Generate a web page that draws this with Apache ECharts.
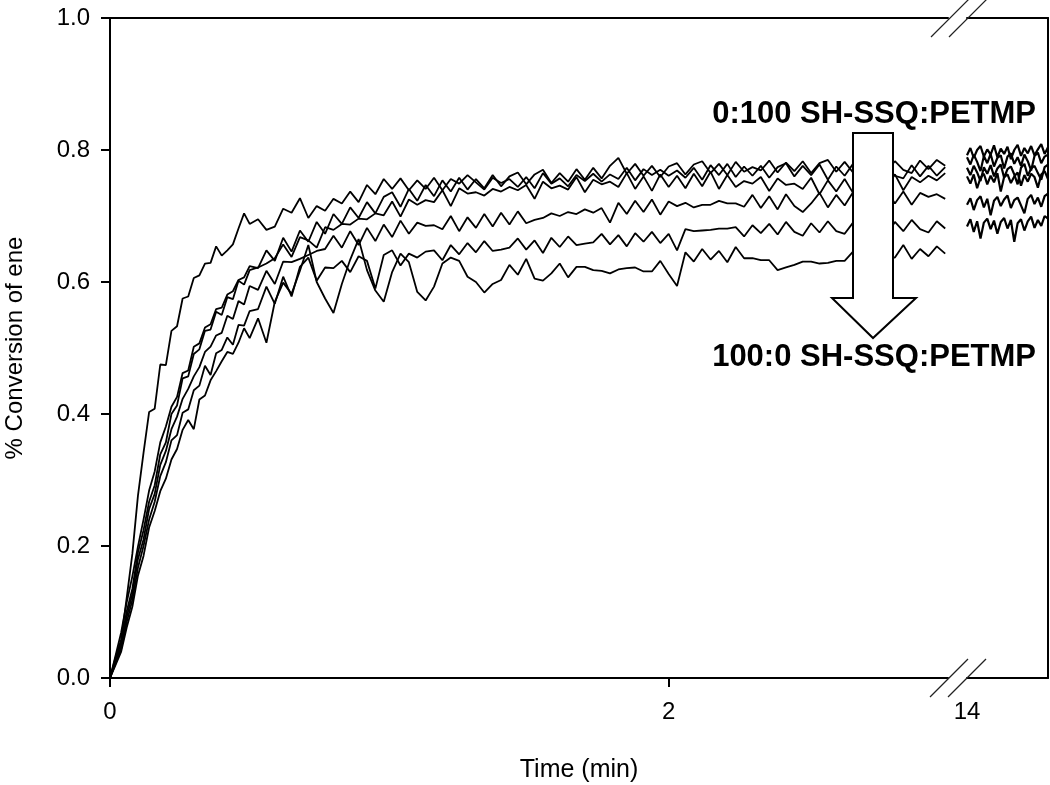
<!DOCTYPE html>
<html>
<head>
<meta charset="utf-8">
<script src="https://cdn.jsdelivr.net/npm/echarts@6/dist/echarts.min.js"></script>
<style>
html,body{margin:0;padding:0;background:#fff;}
#chart{width:1050px;height:785px;}
</style>
</head>
<body>
<div id="chart"></div>
<script>
// ---- data: time (min), first segment 0-3 min ----
const time1 = [0,0.02,0.04,0.06,0.08,0.10,0.12,0.14,0.16,0.18,
 0.20,0.22,0.24,0.26,0.28,0.30,0.32,0.34,0.36,0.38,
 0.40,0.42,0.44,0.46,0.48,0.50,
 0.53,0.56,0.59,0.62,0.65,0.68,0.71,0.74,0.77,0.80,
 0.83,0.86,0.89,0.92,0.95,0.98,1.01,1.04,1.07,1.10,
 1.13,1.16,1.19,1.22,1.25,1.28,1.31,1.34,1.37,1.40,
 1.43,1.46,1.49,1.52,1.55,1.58,1.61,1.64,1.67,1.70,
 1.73,1.76,1.79,1.82,1.85,1.88,1.91,1.94,1.97,2.00,
 2.03,2.06,2.09,2.12,2.15,2.18,2.21,2.24,2.27,2.30,
 2.33,2.36,2.39,2.42,2.45,2.48,2.51,2.54,2.57,2.60,
 2.63,2.66,2.69,2.72,2.75,2.78,2.81,2.84,2.87,2.90,
 2.93,2.96,2.99];
// second segment after the axis break (around 14 min)
const time2 = [14.0,14.0125,14.025,14.0375,14.05,14.0625,14.075,14.0875,14.1,14.1125,
 14.125,14.1375,14.15,14.1625,14.175,14.1875,14.2,14.2125,14.225,14.2375,
 14.25,14.2625,14.275,14.2875,14.3];

const seriesNames = ['0:100','20:80','40:60','60:40','80:20','100:0'];

const conv0_100 = [0,0.034,0.069,0.115,0.154,0.199,0.240,0.284,0.313,0.357,
 0.381,0.411,0.426,0.462,0.466,0.502,0.507,0.531,0.536,0.559,
 0.561,0.581,0.586,0.603,0.607,0.624,
 0.621,0.648,0.632,0.667,0.646,0.678,0.661,0.691,0.673,0.703,
 0.688,0.713,0.697,0.721,0.704,0.729,0.736,0.714,0.741,0.723,
 0.747,0.730,0.754,0.737,0.758,0.740,0.756,0.742,0.762,0.745,
 0.760,0.766,0.748,0.763,0.770,0.750,0.765,0.752,0.771,0.755,
 0.773,0.757,0.776,0.788,0.764,0.779,0.761,0.776,0.759,0.775,
 0.780,0.763,0.778,0.783,0.765,0.779,0.762,0.782,0.767,0.774,
 0.769,0.784,0.766,0.781,0.768,0.783,0.765,0.780,0.785,0.767,
 0.782,0.766,0.784,0.769,0.786,0.768,0.783,0.770,0.765,0.784,
 0.771,0.785,0.776];
const conv20_80 = [0,0.031,0.058,0.122,0.188,0.276,0.341,0.403,0.408,0.475,
 0.474,0.526,0.533,0.575,0.578,0.606,0.610,0.628,0.629,0.654,
 0.640,0.648,0.657,0.681,0.704,0.688,
 0.695,0.679,0.684,0.711,0.705,0.727,0.697,0.715,0.708,0.726,
 0.719,0.737,0.721,0.747,0.733,0.756,0.741,0.757,0.739,0.754,
 0.741,0.758,0.739,0.756,0.749,0.762,0.751,0.740,0.758,0.750,
 0.756,0.744,0.759,0.742,0.765,0.749,0.757,0.745,0.762,0.753,
 0.764,0.752,0.763,0.756,0.773,0.754,0.771,0.762,0.770,0.761,
 0.769,0.758,0.773,0.755,0.777,0.762,0.779,0.759,0.775,0.761,
 0.776,0.758,0.774,0.780,0.760,0.776,0.762,0.778,0.755,0.775,
 0.761,0.779,0.757,0.775,0.752,0.776,0.761,0.757,0.777,0.760,
 0.776,0.761,0.774];
const conv40_60 = [0,0.027,0.055,0.101,0.135,0.190,0.224,0.267,0.292,0.339,
 0.357,0.400,0.413,0.454,0.457,0.491,0.498,0.526,0.528,0.555,
 0.550,0.577,0.574,0.602,0.596,0.618,
 0.622,0.628,0.636,0.657,0.638,0.668,0.663,0.652,0.683,0.679,
 0.688,0.687,0.696,0.695,0.704,0.701,0.722,0.699,0.725,0.717,
 0.724,0.721,0.739,0.715,0.742,0.734,0.736,0.731,0.741,0.737,
 0.744,0.739,0.747,0.726,0.752,0.742,0.746,0.740,0.759,0.736,
 0.755,0.748,0.752,0.744,0.765,0.741,0.760,0.738,0.763,0.744,
 0.761,0.742,0.764,0.745,0.767,0.741,0.762,0.744,0.753,0.749,
 0.759,0.738,0.757,0.747,0.749,0.741,0.758,0.733,0.754,0.737,
 0.756,0.735,0.760,0.740,0.747,0.744,0.763,0.739,0.759,0.751,
 0.761,0.754,0.765];
const conv60_40 = [0,0.024,0.048,0.093,0.127,0.180,0.210,0.256,0.279,0.323,
 0.344,0.377,0.396,0.423,0.438,0.457,0.471,0.494,0.502,0.519,
 0.523,0.549,0.544,0.571,0.566,0.594,
 0.588,0.617,0.597,0.631,0.630,0.635,0.641,0.647,0.650,0.670,
 0.652,0.677,0.656,0.682,0.662,0.687,0.668,0.693,0.673,0.690,
 0.685,0.686,0.680,0.700,0.677,0.698,0.682,0.703,0.684,0.705,
 0.687,0.707,0.689,0.694,0.697,0.704,0.700,0.706,0.703,0.710,
 0.705,0.712,0.690,0.720,0.703,0.723,0.706,0.725,0.702,0.722,
 0.715,0.720,0.713,0.717,0.717,0.723,0.719,0.719,0.714,0.732,
 0.712,0.730,0.710,0.733,0.715,0.706,0.719,0.735,0.713,0.732,
 0.716,0.736,0.718,0.723,0.722,0.739,0.719,0.737,0.717,0.735,
 0.729,0.733,0.726];
const conv80_20 = [0,0.022,0.044,0.085,0.118,0.167,0.200,0.240,0.267,0.306,
 0.327,0.360,0.368,0.402,0.407,0.436,0.443,0.473,0.459,0.492,
 0.497,0.516,0.505,0.535,0.534,0.556,
 0.559,0.593,0.567,0.608,0.578,0.623,0.637,0.602,0.622,0.621,
 0.632,0.615,0.639,0.632,0.590,0.641,0.648,0.625,0.643,0.637,
 0.646,0.648,0.633,0.656,0.642,0.659,0.645,0.662,0.647,0.649,
 0.652,0.666,0.649,0.663,0.644,0.667,0.653,0.669,0.656,0.658,
 0.660,0.673,0.657,0.671,0.654,0.674,0.661,0.676,0.659,0.673,
 0.648,0.680,0.677,0.678,0.679,0.681,0.681,0.683,0.669,0.686,
 0.674,0.688,0.672,0.691,0.676,0.670,0.689,0.675,0.692,0.677,
 0.673,0.690,0.676,0.693,0.679,0.671,0.691,0.677,0.694,0.680,
 0.675,0.692,0.681];
const conv100_0 = [0,0.020,0.040,0.077,0.108,0.155,0.185,0.228,0.253,0.283,
 0.302,0.331,0.347,0.376,0.391,0.377,0.422,0.428,0.451,0.465,
 0.480,0.494,0.491,0.508,0.530,0.515,
 0.545,0.508,0.570,0.599,0.582,0.617,0.656,0.600,0.575,0.553,
 0.597,0.634,0.665,0.618,0.587,0.570,0.615,0.643,0.630,0.585,
 0.572,0.593,0.628,0.637,0.632,0.608,0.600,0.584,0.597,0.603,
 0.626,0.611,0.635,0.605,0.602,0.613,0.628,0.607,0.623,0.623,
 0.618,0.617,0.613,0.619,0.621,0.622,0.616,0.616,0.632,0.612,
 0.594,0.645,0.631,0.650,0.634,0.647,0.630,0.653,0.636,0.636,
 0.633,0.633,0.618,0.622,0.626,0.631,0.631,0.628,0.629,0.632,
 0.632,0.646,0.627,0.642,0.641,0.638,0.637,0.656,0.635,0.650,
 0.639,0.654,0.643];

const late0_100 = [0.792,0.803,0.788,0.800,0.806,0.790,0.801,0.793,0.807,0.789,0.802,0.794,0.805,0.786,0.800,0.808,0.791,0.803,0.795,0.806,0.792,0.801,0.809,0.794,0.804];
const late20_80 = [0.789,0.778,0.793,0.782,0.768,0.791,0.780,0.794,0.775,0.788,0.792,0.772,0.790,0.795,0.779,0.789,0.776,0.793,0.783,0.769,0.791,0.796,0.780,0.790,0.793];
const late40_60 = [0.773,0.762,0.776,0.766,0.753,0.774,0.764,0.777,0.760,0.772,0.778,0.758,0.771,0.775,0.763,0.748,0.773,0.779,0.761,0.772,0.776,0.765,0.755,0.774,0.778];
const late60_40 = [0.760,0.749,0.763,0.742,0.758,0.764,0.748,0.761,0.751,0.765,0.737,0.759,0.763,0.750,0.760,0.766,0.746,0.762,0.752,0.764,0.759,0.743,0.763,0.768,0.756];
const late80_20 = [0.717,0.727,0.709,0.724,0.730,0.713,0.726,0.701,0.723,0.729,0.715,0.725,0.731,0.712,0.724,0.728,0.716,0.704,0.726,0.732,0.718,0.728,0.714,0.730,0.734];
const late100_0 = [0.684,0.695,0.676,0.692,0.666,0.690,0.696,0.680,0.693,0.673,0.691,0.697,0.681,0.694,0.661,0.689,0.695,0.678,0.692,0.699,0.682,0.694,0.685,0.700,0.696];

const yTicks = [0, 0.2, 0.4, 0.6, 0.8, 1.0];
const xTicksEarly = [0, 2];
const xTicksLate = [14];

const early = [conv0_100, conv20_80, conv40_60, conv60_40, conv80_20, conv100_0];
const late = [late0_100, late20_80, late40_60, late60_40, late80_20, late100_0];

// ---- chart ----
const FONT = '"Liberation Sans", Arial, Helvetica, sans-serif';
const chart = echarts.init(document.getElementById('chart'), null, {renderer: 'canvas'});

const pair = (xs, ys) => xs.map((x, i) => [x, ys[i]]);
const series = [];
seriesNames.forEach((name, k) => {
  const common = {type: 'line', name, showSymbol: false, symbol: 'none', animation: false, z: 2, silent: true};
  series.push(Object.assign({}, common, {xAxisIndex: 0, yAxisIndex: 0, data: pair(time1, early[k]),
    lineStyle: {color: '#000', width: 1.8}}));
  series.push(Object.assign({}, common, {xAxisIndex: 2, yAxisIndex: 1, data: pair(time2, late[k]),
    lineStyle: {color: '#000', width: 2.2}}));
});

const axisLineStyle = {show: true, lineStyle: {color: '#000', width: 2}};
const labelStyle = {color: '#000', fontSize: 24, fontFamily: FONT};

const option = {
  backgroundColor: '#fff',
  animation: false,
  grid: [
    {left: 110, top: 18, width: 838, height: 660},
    {left: 967, top: 18, width: 81, height: 660}
  ],
  xAxis: [
    {type: 'value', gridIndex: 0, position: 'bottom', min: 0, max: 3,
     axisLine: axisLineStyle, splitLine: {show: false},
     axisTick: {show: true, inside: false, length: 9, lineStyle: {color: '#000', width: 2}, customValues: xTicksEarly},
     axisLabel: Object.assign({margin: 22, customValues: xTicksEarly, formatter: v => String(v)}, labelStyle)},
    {type: 'value', gridIndex: 0, position: 'top', min: 0, max: 3,
     axisLine: axisLineStyle, axisTick: {show: false}, axisLabel: {show: false}, splitLine: {show: false}},
    {type: 'value', gridIndex: 1, position: 'bottom', min: 14, max: 14.3,
     axisLine: axisLineStyle, splitLine: {show: false},
     axisTick: {show: false},
     axisLabel: Object.assign({margin: 22, customValues: xTicksLate, formatter: v => String(Math.round(v))}, labelStyle)},
    {type: 'value', gridIndex: 1, position: 'top', min: 14, max: 14.3,
     axisLine: axisLineStyle, axisTick: {show: false}, axisLabel: {show: false}, splitLine: {show: false}}
  ],
  yAxis: [
    {type: 'value', gridIndex: 0, position: 'left', min: 0, max: 1, interval: 0.2,
     axisLine: axisLineStyle, splitLine: {show: false},
     axisTick: {show: true, inside: false, length: 9, lineStyle: {color: '#000', width: 2}, customValues: yTicks},
     axisLabel: Object.assign({margin: 20, customValues: yTicks, formatter: v => v.toFixed(1)}, labelStyle)},
    {type: 'value', gridIndex: 1, position: 'right', min: 0, max: 1,
     axisLine: axisLineStyle, axisTick: {show: false}, axisLabel: {show: false}, splitLine: {show: false}}
  ],
  series: series,
  graphic: [
    {type: 'text', x: 579, y: 770, z: 100,
     style: {text: 'Time (min)', font: '25px ' + FONT, fill: '#000', align: 'center', verticalAlign: 'middle', textAlign: 'center', textVerticalAlign: 'middle'}},
    {type: 'text', x: 15, y: 348, rotation: Math.PI / 2, z: 100,
     style: {text: '% Conversion of ene', font: '24px ' + FONT, fill: '#000', align: 'center', verticalAlign: 'middle', textAlign: 'center', textVerticalAlign: 'middle'}},
    {type: 'polygon', z: 100,
     shape: {points: [[853,133],[893,133],[893,298],[916,298],[873,338],[832,298],[853,298]]},
     style: {fill: '#fff', stroke: '#000', lineWidth: 2}},
    {type: 'text', x: 1036, y: 114, z: 101,
     style: {text: '0:100 SH-SSQ:PETMP', font: 'bold 31px ' + FONT, fill: '#000', align: 'right', verticalAlign: 'middle', textAlign: 'right', textVerticalAlign: 'middle'}},
    {type: 'text', x: 1036, y: 357, z: 101,
     style: {text: '100:0 SH-SSQ:PETMP', font: 'bold 31px ' + FONT, fill: '#000', align: 'right', verticalAlign: 'middle', textAlign: 'right', textVerticalAlign: 'middle'}},
    {type: 'line', z: 100, shape: {x1: 931, y1: 37, x2: 969, y2: -1}, style: {stroke: '#222', lineWidth: 1.2}},
    {type: 'line', z: 100, shape: {x1: 949, y1: 37, x2: 987, y2: -1}, style: {stroke: '#222', lineWidth: 1.2}},
    {type: 'line', z: 100, shape: {x1: 930, y1: 697, x2: 968, y2: 659}, style: {stroke: '#222', lineWidth: 1.2}},
    {type: 'line', z: 100, shape: {x1: 948, y1: 697, x2: 986, y2: 659}, style: {stroke: '#222', lineWidth: 1.2}}
  ]
};
chart.setOption(option);
</script>
</body>
</html>
